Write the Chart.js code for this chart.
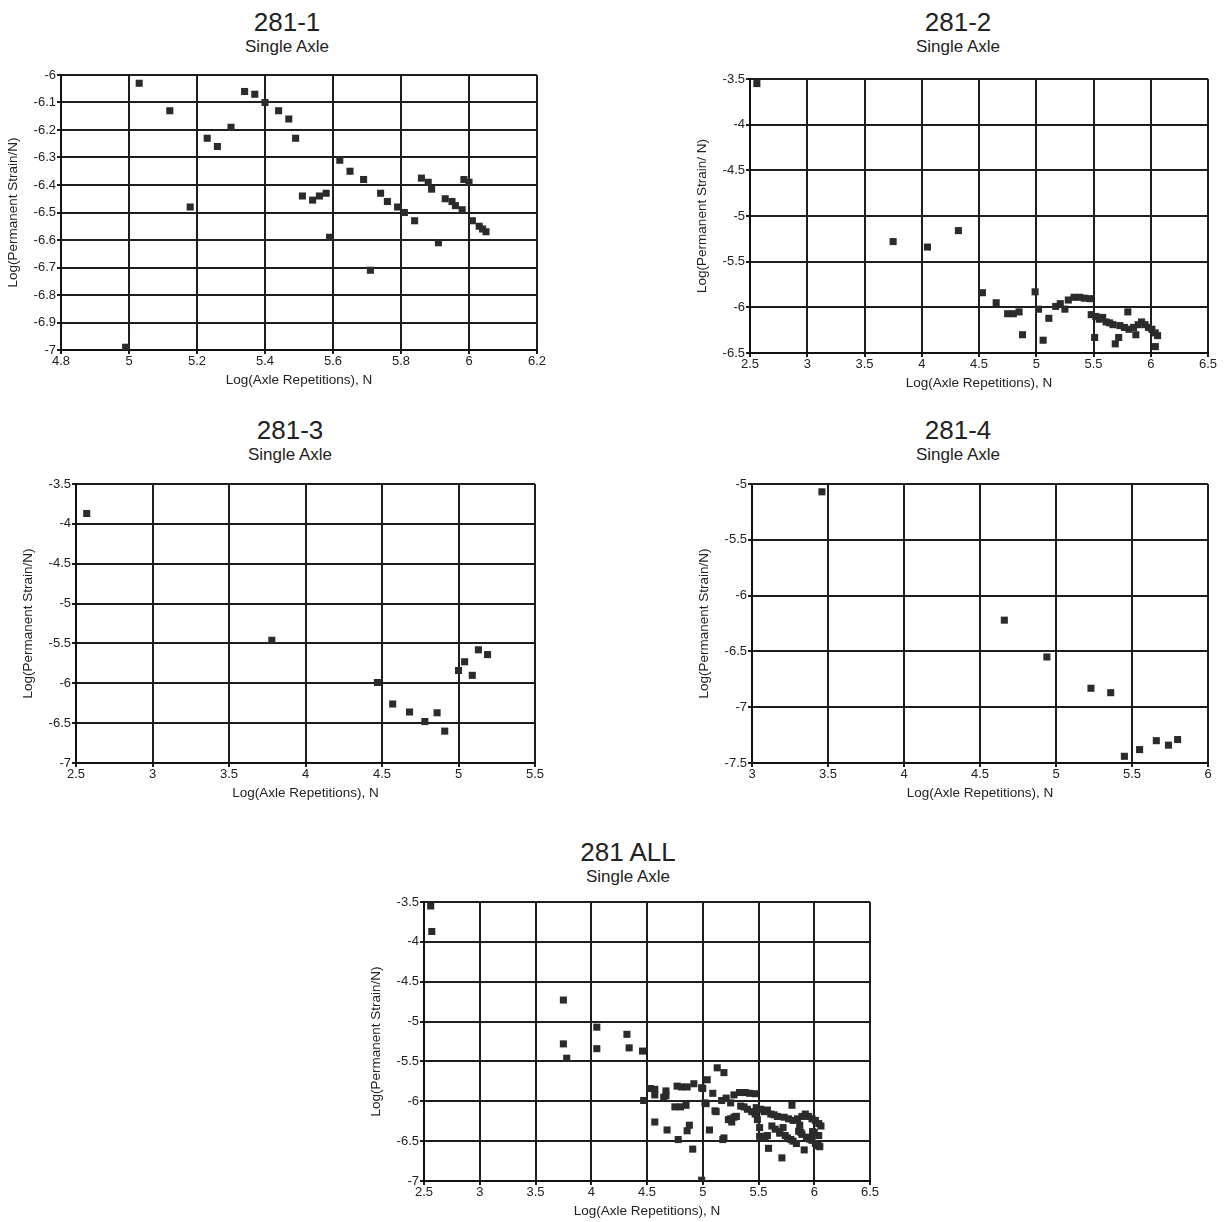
<!DOCTYPE html>
<html>
<head>
<meta charset="utf-8">
<title>281 Single Axle</title>
<script src="https://cdn.jsdelivr.net/npm/chart.js@4.4.0/dist/chart.umd.min.js"></script>
<style>
    body {
        margin: 0;
        background: #fff;
        width: 1226px;
        height: 1222px;
        position: relative;
        overflow: hidden;
        font-family: "Liberation Sans", Arial, sans-serif;
        color: #222;
    }
    .title-main, .title-sub {
        position: absolute;
        width: 300px;
        text-align: center;
        line-height: 1;
        white-space: nowrap;
    }
    .title-main { font-size: 26px; }
    .title-sub { font-size: 17px; }
    .chart-box { position: absolute; }
</style>
</head>
<body>
<script>
// 281-1
const sec1X = [5.03, 5.12, 5.18, 5.23, 5.26, 5.30, 5.34, 5.37, 5.40, 5.44, 5.47, 5.49, 4.99,
    5.51, 5.54, 5.56, 5.58, 5.59, 5.62, 5.65, 5.69, 5.71, 5.74, 5.76, 5.79, 5.81, 5.84,
    5.86, 5.88, 5.89, 5.91, 5.93, 5.95, 5.96, 5.98, 5.985, 6.00, 6.01, 6.03, 6.04, 6.05];
const sec1Y = [-6.03, -6.13, -6.48, -6.23, -6.26, -6.19, -6.06, -6.07, -6.10, -6.13, -6.16, -6.23, -6.99,
    -6.44, -6.455, -6.44, -6.43, -6.59, -6.31, -6.35, -6.38, -6.71, -6.43, -6.46, -6.48, -6.50, -6.53,
    -6.375, -6.39, -6.415, -6.61, -6.45, -6.46, -6.475, -6.49, -6.38, -6.39, -6.53, -6.55, -6.56, -6.57];

// 281-2
const sec2X = [2.56, 3.75, 4.05, 4.32, 4.53, 4.65, 4.75, 4.80, 4.85, 4.88, 4.99, 5.02, 5.06,
    5.11, 5.17, 5.21, 5.25, 5.28, 5.33, 5.38, 5.42, 5.47, 5.48, 5.51, 5.52, 5.55, 5.58,
    5.61, 5.64, 5.67, 5.69, 5.72, 5.73, 5.77, 5.80, 5.81, 5.85, 5.87, 5.89, 5.92, 5.95,
    5.98, 6.01, 6.04, 6.06, 6.04];
const sec2Y = [-3.55, -5.28, -5.34, -5.16, -5.84, -5.95, -6.07, -6.07, -6.05, -6.30, -5.83, -6.02, -6.36,
    -6.12, -5.99, -5.96, -6.02, -5.92, -5.89, -5.89, -5.90, -5.905, -6.08, -6.33, -6.10, -6.13, -6.11,
    -6.16, -6.17, -6.19, -6.40, -6.33, -6.20, -6.22, -6.05, -6.24, -6.22, -6.30, -6.19, -6.16, -6.19,
    -6.22, -6.24, -6.28, -6.31, -6.43];

// 281-3
const sec3X = [2.57, 3.78, 4.47, 4.57, 4.68, 4.78, 4.86, 4.91, 5.00, 5.04, 5.09, 5.13, 5.19];
const sec3Y = [-3.87, -5.46, -5.99, -6.26, -6.36, -6.48, -6.37, -6.60, -5.84, -5.73, -5.90, -5.58, -5.64];

// 281-4
const sec4X = [3.46, 4.66, 4.94, 5.23, 5.36, 5.45, 5.55, 5.66, 5.74, 5.80];
const sec4Y = [-5.07, -6.22, -6.55, -6.83, -6.87, -7.44, -7.38, -7.30, -7.34, -7.29];

// points that only show in the 281 ALL plot
const extraX = [3.75, 4.05, 4.34, 4.46, 4.57, 4.57, 4.67, 4.67, 4.77, 4.81, 4.86, 4.92, 5.19, 5.25, 5.28, 5.30];
const extraY = [-4.73, -5.07, -5.33, -5.37, -5.85, -5.92, -5.87, -5.93, -5.81, -5.82, -5.82, -5.78, -6.46, -6.22, -6.20, -6.19];

// tick labels
const ticks1X = [4.8, 5, 5.2, 5.4, 5.6, 5.8, 6, 6.2];
const ticks1Y = [-6, -6.1, -6.2, -6.3, -6.4, -6.5, -6.6, -6.7, -6.8, -6.9, -7];
const ticksWideX = [2.5, 3, 3.5, 4, 4.5, 5, 5.5, 6, 6.5];
const ticksWideY = [-3.5, -4, -4.5, -5, -5.5, -6, -6.5];
const ticks3X = [2.5, 3, 3.5, 4, 4.5, 5, 5.5];
const ticks3Y = [-3.5, -4, -4.5, -5, -5.5, -6, -6.5, -7];
const ticks4X = [3, 3.5, 4, 4.5, 5, 5.5, 6];
const ticks4Y = [-5, -5.5, -6, -6.5, -7, -7.5];

const xTitle = 'Log(Axle Repetitions), N';

function toPoints(xs, ys) {
    return xs.map((x, i) => ({ x: x, y: ys[i] }));
}

function addTitle(text, sub, cx, cy) {
    const main = document.createElement('div');
    main.className = 'title-main';
    main.textContent = text;
    main.style.left = (cx - 150) + 'px';
    main.style.top = (cy - 13) + 'px';
    document.body.appendChild(main);

    const s = document.createElement('div');
    s.className = 'title-sub';
    s.textContent = sub;
    s.style.left = (cx - 150) + 'px';
    s.style.top = (cy + 16) + 'px';
    document.body.appendChild(s);
}

function makeChart(plot, points, xTicks, yTicks, yTitle) {
    const padLeft = 62, padTop = 12, padRight = 14, padBottom = 42;
    const box = document.createElement('div');
    box.className = 'chart-box';
    box.style.left = (plot.l - padLeft) + 'px';
    box.style.top = (plot.t - padTop) + 'px';
    box.style.width = (plot.r - plot.l + padLeft + padRight) + 'px';
    box.style.height = (plot.b - plot.t + padTop + padBottom) + 'px';
    const canvas = document.createElement('canvas');
    box.appendChild(canvas);
    document.body.appendChild(box);

    const gridStyle = {
        color: '#1e1e1e',
        lineWidth: 2,
        tickLength: 4,
        drawTicks: true
    };
    const tickFont = { family: '"Liberation Sans", Arial, sans-serif', size: 13 };
    const titleFont = { family: '"Liberation Sans", Arial, sans-serif', size: 13.5 };

    new Chart(canvas.getContext('2d'), {
        type: 'scatter',
        data: {
            datasets: [{
                data: points,
                backgroundColor: '#2b2b2b',
                borderColor: '#2b2b2b',
                borderWidth: 0,
                pointStyle: 'rect',
                pointRadius: 5,
                pointHoverRadius: 5
            }]
        },
        options: {
            responsive: true,
            maintainAspectRatio: false,
            animation: false,
            layout: { padding: { left: 0, top: padTop, right: padRight, bottom: 2 } },
            plugins: {
                legend: { display: false },
                tooltip: { enabled: false }
            },
            scales: {
                x: {
                    type: 'linear',
                    min: xTicks[0],
                    max: xTicks[xTicks.length - 1],
                    afterBuildTicks: axis => { axis.ticks = xTicks.map(v => ({ value: v })); },
                    afterFit: axis => { axis.height = 40; },
                    grid: gridStyle,
                    border: { color: '#111', width: 2 },
                    ticks: { color: '#222', font: tickFont, padding: 0, maxRotation: 0, autoSkip: false, callback: v => String(v) },
                    title: { display: true, text: xTitle, color: '#222', font: titleFont, padding: { top: 0, bottom: 2 } }
                },
                y: {
                    type: 'linear',
                    min: yTicks[yTicks.length - 1],
                    max: yTicks[0],
                    afterBuildTicks: axis => { axis.ticks = yTicks.map(v => ({ value: v })); },
                    afterFit: axis => { axis.width = padLeft; },
                    grid: gridStyle,
                    border: { color: '#111', width: 2 },
                    ticks: { color: '#222', font: tickFont, padding: 1, autoSkip: false, callback: v => String(v) },
                    title: { display: true, text: yTitle, color: '#222', font: titleFont, padding: { top: 6, bottom: 0 } }
                }
            }
        }
    });
}

document.addEventListener('DOMContentLoaded', function() {
    const sec1 = toPoints(sec1X, sec1Y);
    const sec2 = toPoints(sec2X, sec2Y);
    const sec3 = toPoints(sec3X, sec3Y);
    const sec4 = toPoints(sec4X, sec4Y);
    const allPts = sec1.concat(sec2, sec3, toPoints(extraX, extraY));

    addTitle('281-1', 'Single Axle', 287, 22);
    makeChart({ l: 61, r: 537, t: 75, b: 350 }, sec1, ticks1X, ticks1Y, 'Log(Permanent Strain/N)');

    addTitle('281-2', 'Single Axle', 958, 22);
    makeChart({ l: 750, r: 1208, t: 79, b: 353 }, sec2, ticksWideX, ticksWideY, 'Log(Permanent Strain/ N)');

    addTitle('281-3', 'Single Axle', 290, 430);
    makeChart({ l: 76, r: 535, t: 484, b: 763 }, sec3, ticks3X, ticks3Y, 'Log(Permanent Strain/N)');

    addTitle('281-4', 'Single Axle', 958, 430);
    makeChart({ l: 752, r: 1208, t: 484, b: 763 }, sec4, ticks4X, ticks4Y, 'Log(Permanent Strain/N)');

    addTitle('281 ALL', 'Single Axle', 628, 852);
    makeChart({ l: 424, r: 870, t: 902, b: 1181 }, allPts, ticksWideX, ticks3Y, 'Log(Permanent Strain/N)');
});
</script>
</body>
</html>
